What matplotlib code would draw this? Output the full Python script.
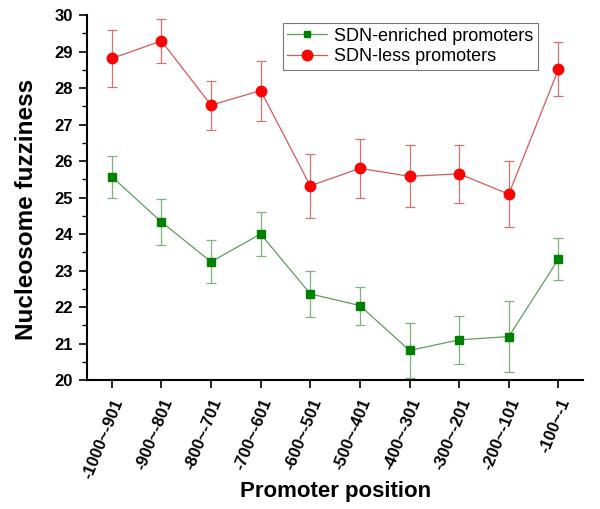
import matplotlib.pyplot as plt
from matplotlib.lines import Line2D
import numpy as np

plt.rcParams['font.family'] = ['Liberation Sans', 'DejaVu Sans']

positions = ['-1000~-901', '-900~-801', '-800~-701', '-700~-601', '-600~-501',
             '-500~-401', '-400~-301', '-300~-201', '-200~-101', '-100~-1']

enriched = [25.57, 24.33, 23.24, 24.00, 22.36, 22.04, 20.81, 21.10, 21.19, 23.31]
enriched_err = [0.57, 0.62, 0.59, 0.59, 0.64, 0.52, 0.75, 0.65, 0.98, 0.58]

less = [28.81, 29.29, 27.53, 27.93, 25.32, 25.80, 25.58, 25.65, 25.09, 28.51]
less_err = [0.77, 0.60, 0.67, 0.82, 0.88, 0.81, 0.85, 0.79, 0.90, 0.74]

x = np.arange(len(positions))

fig = plt.figure(figsize=(6, 5.09), dpi=100)
ax = fig.add_axes([0.145, 0.2534, 0.827, 0.7171])

green_line = '#5e9e5e'
red_line = '#d65a5a'

ax.errorbar(x, enriched, yerr=enriched_err, color=green_line, lw=0.9,
            ecolor='#7fb27f', elinewidth=0.9, capsize=3.5, capthick=0.9,
            marker='s', markersize=5.5, markerfacecolor='#008000',
            markeredgecolor='#008000')
ax.errorbar(x, less, yerr=less_err, color=red_line, lw=0.9,
            ecolor='#d87070', elinewidth=0.9, capsize=3.5, capthick=0.9,
            marker='o', markersize=7.5, markerfacecolor='#ff0000',
            markeredgecolor='#ff0000')

ax.set_xlim(-0.5, 9.5)
ax.set_ylim(20, 30)
ax.set_yticks(np.arange(20, 31, 1))
ax.set_yticks(np.arange(20, 30.01, 0.5), minor=True)
ax.set_xticks(x)
ax.set_xticklabels(positions, rotation=68, ha='right', va='top',
                   rotation_mode='anchor', fontweight='bold', fontsize=12)
for lbl in ax.get_yticklabels():
    lbl.set_fontweight('bold')
    lbl.set_fontsize(12)

ax.spines['top'].set_visible(False)
ax.spines['right'].set_visible(False)
ax.spines['left'].set_linewidth(1.5)
ax.spines['bottom'].set_linewidth(1.5)
ax.tick_params(axis='both', which='major', direction='out', length=6, width=1.2)
ax.tick_params(axis='x', which='major', pad=6)
ax.tick_params(axis='y', which='major', pad=4)
ax.tick_params(axis='y', which='minor', direction='out', length=3.5, width=1.0)

ax.set_xlabel('Promoter position', fontsize=16, fontweight='bold', labelpad=0)
ax.set_ylabel('Nucleosome fuzziness', fontsize=17.5, fontweight='bold')
ax.yaxis.set_label_coords(-0.098, 0.468)

handles = [
    Line2D([], [], color=green_line, lw=0.9, marker='s', markersize=5,
           markerfacecolor='#008000', markeredgecolor='#008000'),
    Line2D([], [], color=red_line, lw=0.9, marker='o', markersize=7.5,
           markerfacecolor='#ff0000', markeredgecolor='#ff0000'),
]
leg = ax.legend(handles, ['SDN-enriched promoters', 'SDN-less promoters'],
                loc='upper left', bbox_to_anchor=(0.394, 0.978), fontsize=13,
                fancybox=False, edgecolor='#555555', handlelength=2.2,
                borderpad=0.25, labelspacing=0.2, handletextpad=0.4,
                borderaxespad=0)
leg.get_frame().set_linewidth(0.8)

fig.savefig('out.png', dpi=100)
